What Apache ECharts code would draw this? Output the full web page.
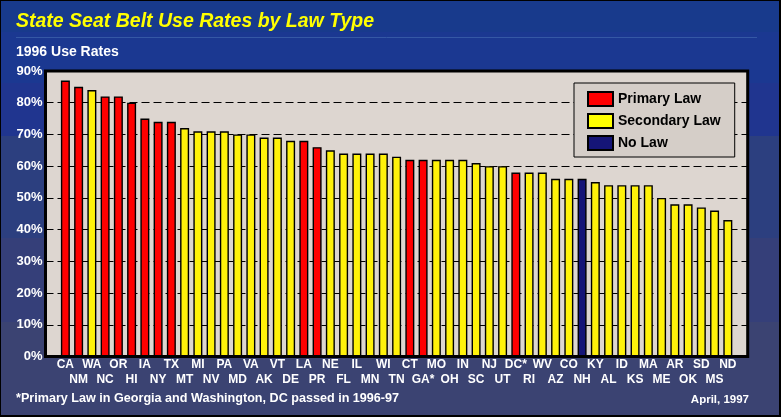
<!DOCTYPE html>
<html>
<head>
<meta charset="utf-8">
<script src="https://cdn.jsdelivr.net/npm/echarts@6/dist/echarts.min.js"></script>
<style>
html,body{margin:0;padding:0;background:#1a3a8c;}
#chart{width:781px;height:417px;}
</style>
</head>
<body>
<div id="chart"></div>
<script>
const states = ['CA','NM','WA','NC','OR','HI','IA','NY','TX','MT','MI','NV','PA','MD','VA','AK','VT','DE','LA','PR','NE','FL','IL','MN','WI','TN','CT','GA*','MO','OH','IN','SC','NJ','UT','DC*','RI','WV','AZ','CO','NH','KY','AL','ID','KS','MA','ME','AR','OK','SD','MS','ND'];
const rates = [87,85,84,82,82,80,75,74,74,72,71,71,71,70,70,69,69,68,68,66,65,64,64,64,64,63,62,62,62,62,62,61,60,60,58,58,58,56,56,56,55,54,54,54,54,50,48,48,47,46,43];
const lawTypes = ['P','P','S','P','P','P','P','P','P','S','S','S','S','S','S','S','S','S','P','P','S','S','S','S','S','S','P','P','S','S','S','S','S','S','P','S','S','S','S','N','S','S','S','S','S','S','S','S','S','S','S'];
const seriesNames = ['Primary Law','Secondary Law','No Law'];
const seriesCodes = ['P','S','N'];
const seriesColors = ['#ff0000','#fff20a','#151577'];
const yTicks = [0,10,20,30,40,50,60,70,80,90];
const titleText = 'State Seat Belt Use Rates by Law Type';
const subtitleText = '1996 Use Rates';
const footnoteText = '*Primary Law in Georgia and Washington, DC passed in 1996-97';
const dateText = 'April, 1997';

const FONT = "'Liberation Sans', Arial, sans-serif";
// categories padded with an empty slot at each end
const cats = [''].concat(states, ['']);

const series = seriesNames.map((name, k) => ({
  name: name,
  type: 'bar',
  barWidth: 9,
  barGap: '-100%',
  itemStyle: { color: seriesColors[k], borderColor: '#000', borderWidth: 1.4 },
  emphasis: { disabled: true },
  data: ['-'].concat(states.map((s, i) => lawTypes[i] === seriesCodes[k] ? rates[i] : '-'), ['-'])
}));

const chart = echarts.init(document.getElementById('chart'), null, { renderer: 'canvas' });
chart.setOption({
  animation: false,
  backgroundColor: {
    type: 'linear', x: 0, y: 0, x2: 0, y2: 1,
    colorStops: [
      { offset: 0, color: '#183a8c' }, { offset: 0.077, color: '#183a8c' },
      { offset: 0.077, color: '#1b3891' }, { offset: 0.2, color: '#1b3891' },
      { offset: 0.2, color: '#20358f' }, { offset: 0.326, color: '#20358f' },
      { offset: 0.326, color: '#2c3f7f' }, { offset: 0.571, color: '#2c3f7f' },
      { offset: 0.571, color: '#353f79' }, { offset: 0.772, color: '#353f79' },
      { offset: 0.772, color: '#3b4372' }, { offset: 1, color: '#3b4372' }
    ]
  },
  grid: {
    left: 45.5, right: 33.3, top: 71, bottom: 60.5,
    show: true, backgroundColor: '#ddd6d0', borderColor: '#000', borderWidth: 3
  },
  legend: {
    data: seriesNames.map((n, k) => ({ name: n, itemStyle: { color: k === 1 ? '#ffff00' : seriesColors[k] } })),
    orient: 'vertical',
    left: 574, top: 83,
    icon: 'rect',
    itemWidth: 25, itemHeight: 14, itemGap: 6,
    padding: [8, 14, 6, 13],
    backgroundColor: '#d5cec8', borderColor: '#000', borderWidth: 1,
    selectedMode: false,
    textStyle: { color: '#000', fontFamily: FONT, fontWeight: 'bold', fontSize: 14, lineHeight: 15 }
  },
  xAxis: {
    type: 'category',
    data: cats,
    axisLine: { show: false },
    axisTick: { show: false },
    axisLabel: {
      interval: 0,
      margin: 1,
      color: '#fff',
      fontFamily: FONT, fontWeight: 'bold', fontSize: 12, lineHeight: 15,
      formatter: function (v, idx) {
        if (!v) return '';
        return ((idx - 1) % 2 === 0) ? v : '\n' + v;
      }
    }
  },
  yAxis: {
    type: 'value',
    min: yTicks[0], max: yTicks[yTicks.length - 1], interval: yTicks[1] - yTicks[0],
    axisLine: { show: false },
    axisTick: { show: false },
    axisLabel: {
      margin: 3, color: '#fff',
      fontFamily: FONT, fontWeight: 'bold', fontSize: 13,
      formatter: '{value}%'
    },
    splitLine: { lineStyle: { color: '#000', width: 1, type: [8, 4] } }
  },
  graphic: [
    { type: 'text', x: 16, y: 22, style: { text: titleText, fill: '#ffff00', font: "italic bold 19.5px " + FONT, textVerticalAlign: 'middle' } },
    { type: 'line', shape: { x1: 16, y1: 37.5, x2: 757, y2: 37.5 }, style: { stroke: '#3558a5', lineWidth: 1 } },
    { type: 'text', x: 16, y: 52, style: { text: subtitleText, fill: '#fff', font: "bold 14px " + FONT, textVerticalAlign: 'middle' } },
    { type: 'text', x: 16, y: 399, style: { text: footnoteText, fill: '#fff', font: "bold 12.6px " + FONT, textVerticalAlign: 'middle' } },
    { type: 'text', x: 749, y: 400, style: { text: dateText, fill: '#fff', font: "bold 11.5px " + FONT, textAlign: 'right', textVerticalAlign: 'middle' } },
    { type: 'rect', shape: { x: 0, y: 0, width: 780, height: 416 }, style: { fill: 'none', stroke: '#000', lineWidth: 2 }, z: 100 }
  ],
  series: series
});
</script>
</body>
</html>
